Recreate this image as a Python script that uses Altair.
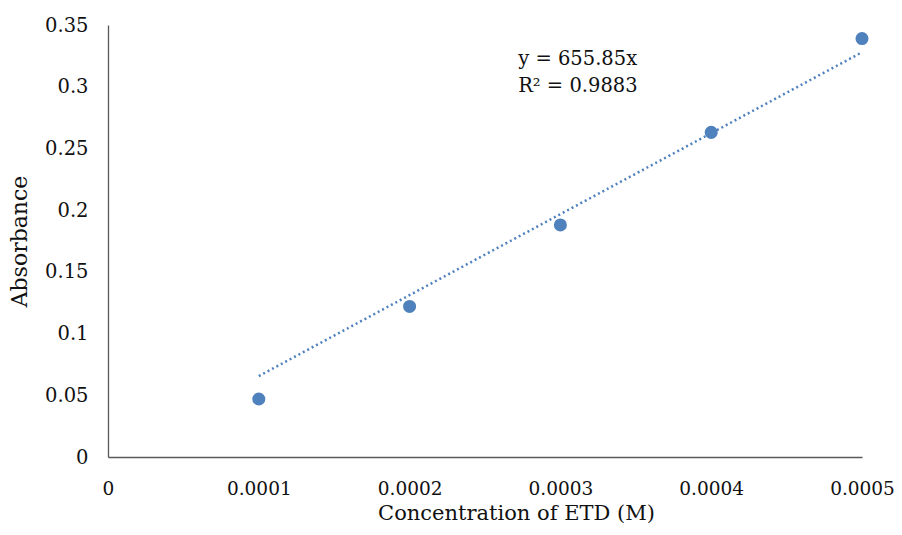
import altair as alt
import pandas as pd

conc = [0.0001, 0.0002, 0.0003, 0.0004, 0.0005]
absorb = [0.047, 0.122, 0.188, 0.263, 0.339]
slope = 655.85
trend_x = [0.0001, 0.0005]
ann_x = [0.000272, 0.000272]
ann_y = [0.3228, 0.3005]
ann_text = ["y = 655.85x", "R² = 0.9883"]

FONT = "DejaVu Serif"
BLUE = "#4f81bd"
TXT = "#111111"

pts = pd.DataFrame({"x": conc, "y": absorb})
trend = pd.DataFrame({"x": trend_x, "y": [slope * v for v in trend_x]})
ann = pd.DataFrame({"x": ann_x, "y": ann_y, "t": ann_text})

xs = alt.Scale(domain=[0, 0.0005], nice=False)
ys = alt.Scale(domain=[0, 0.35], nice=False)

xaxis = alt.Axis(values=[0, 0.0001, 0.0002, 0.0003, 0.0004, 0.0005],
                 labelExpr="datum.value == 0 ? '0' : format(datum.value, '.4f')",
                 title="Concentration of ETD (M)", grid=False, ticks=False,
                 domainColor="#595959", domainWidth=1.3, labelFlush=False, labelOverlap=False,
                 labelFont=FONT, labelFontSize=18.5, labelColor=TXT, labelPadding=22,
                 titleFont=FONT, titleFontSize=21, titleFontWeight="normal", titleColor=TXT,
                 titleX=408, titleY=45, titleBaseline="top", titleAlign="center")
yaxis = alt.Axis(values=[0, 0.05, 0.1, 0.15, 0.2, 0.25, 0.3, 0.35],
                 labelExpr="datum.value == 0 ? '0' : format(datum.value, '~g')",
                 title="Absorbance", grid=False, ticks=False,
                 domainColor="#595959", domainWidth=1.3, labelFlush=False, labelOverlap=False,
                 labelFont=FONT, labelFontSize=19.5, labelColor=TXT, labelPadding=20,
                 titleFont=FONT, titleFontSize=22, titleFontWeight="normal", titleColor=TXT,
                 titleX=-89, titleY=216, titleAngle=270, titleAlign="center", titleBaseline="middle")

line = alt.Chart(trend).mark_line(color=BLUE, strokeWidth=2.5, strokeDash=[2, 3]).encode(
    x=alt.X("x:Q", scale=xs, axis=xaxis), y=alt.Y("y:Q", scale=ys, axis=yaxis))
points = alt.Chart(pts).mark_circle(color=BLUE, size=170, opacity=1).encode(
    x=alt.X("x:Q", scale=xs), y=alt.Y("y:Q", scale=ys))
text = alt.Chart(ann).mark_text(font=FONT, fontSize=19.5, align="left", baseline="middle", color=TXT).encode(
    x=alt.X("x:Q", scale=xs), y=alt.Y("y:Q", scale=ys), text="t:N")

chart = alt.layer(line, points, text).properties(
    width=754, height=432,
    autosize=alt.AutoSizeParams(type="none"),
    padding={"left": 100, "top": 17, "right": 32, "bottom": 70},
).configure(background="white").configure_view(stroke=None)

chart.save("out.html", embed_options={"renderer": "svg", "actions": False})
